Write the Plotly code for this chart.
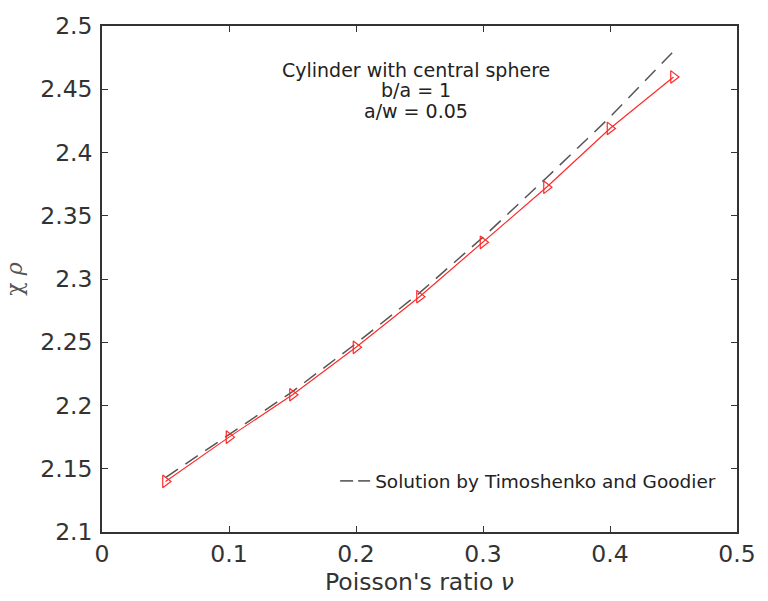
import plotly.graph_objects as go

nu = [0.05, 0.10, 0.15, 0.20, 0.25, 0.30, 0.35, 0.40, 0.45]
chi_rho_fem = [2.140, 2.175, 2.2085, 2.246, 2.286, 2.329, 2.3725, 2.419, 2.4597]
chi_rho_timo = [2.143, 2.177, 2.211, 2.249, 2.289, 2.333, 2.380, 2.428, 2.480]

x_ticks = [0, 0.1, 0.2, 0.3, 0.4, 0.5]
y_ticks = [2.1, 2.15, 2.2, 2.25, 2.3, 2.35, 2.4, 2.45, 2.5]

note_lines = ["Cylinder with central sphere", "b/a = 1", "a/w = 0.05"]
note_y_px = [66, 87, 108]

FONT = "DejaVu Sans, Verdana, sans-serif"
legend_name = "Solution by Timoshenko and Goodier"

fig = go.Figure()
fig.add_trace(go.Scatter(
    x=nu, y=chi_rho_timo, mode="lines", name=legend_name, showlegend=False,
    line=dict(color="#555555", width=1.5, dash="15px,9px")))
fig.add_trace(go.Scatter(
    x=[None], y=[None], mode="lines", name=legend_name, showlegend=True,
    line=dict(color="#666666", width=1.8, dash="13px,5px")))
fig.add_trace(go.Scatter(
    x=nu, y=chi_rho_fem, mode="lines+markers", showlegend=False,
    line=dict(color="#ff2a2a", width=1.2),
    marker=dict(symbol="triangle-right-open", size=11, color="#ff2a2a", line=dict(width=1.2))))

axis_common = dict(showline=True, linecolor="#333333", linewidth=1.5, mirror="ticks",
                   ticks="inside", ticklen=6, tickcolor="#333333", showgrid=False, zeroline=False,
                   tickfont=dict(family=FONT, size=23.5, color="#333333"))

plot_top, plot_bottom = 22, 532.3

fig.update_layout(
    width=768, height=601,
    margin=dict(l=102, r=21, t=22, b=69),
    paper_bgcolor="white", plot_bgcolor="white",
    xaxis=dict(range=[0, 0.5], tickvals=x_ticks, ticktext=[f"{v:g}" for v in x_ticks],
               title=dict(text="Poisson's ratio <i>ν</i>", standoff=2,
                          font=dict(family=FONT, size=23.5, color="#333333")),
               **axis_common),
    yaxis=dict(range=[2.1, 2.5], tickvals=y_ticks, ticktext=[f"{v:g}" for v in y_ticks],
               ticklabelstandoff=3,
               title=dict(text="χ <i>ρ</i>", standoff=12,
                          font=dict(family="DejaVu Serif, Liberation Serif", size=22, color="#555555")),
               **axis_common),
    legend=dict(x=0.975, y=0.10, xanchor="right", yanchor="middle", bgcolor="rgba(0,0,0,0)",
                font=dict(family=FONT, size=18.5, color="#222222")),
)
for txt, py in zip(note_lines, note_y_px):
    fig.add_annotation(x=0.2475, y=(plot_bottom - py) / (plot_bottom - plot_top), xref="x", yref="paper",
                       showarrow=False, text=txt, yanchor="middle",
                       font=dict(family=FONT, size=19, color="#222222"))

fig.write_html("out.html")
